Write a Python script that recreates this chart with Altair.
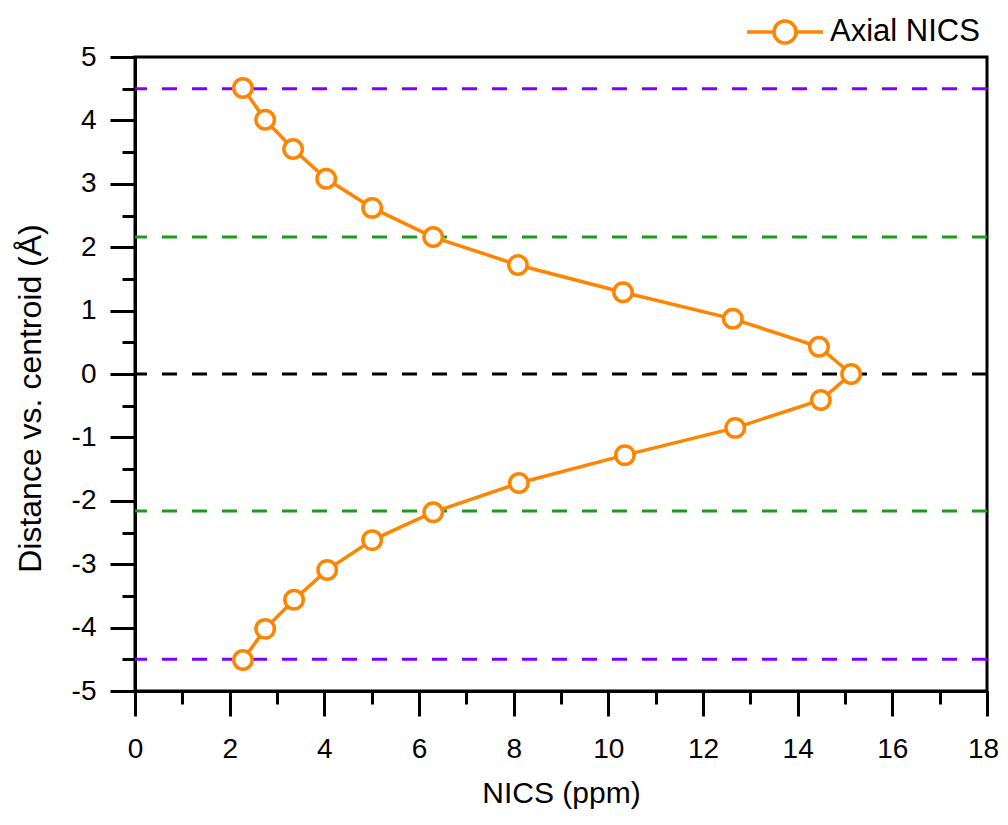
import altair as alt
import pandas as pd

# ---- data ----
nics = [2.28, 2.75, 3.34, 4.04, 5.01, 6.30, 8.09, 10.31, 12.63, 14.45, 15.13,
        14.49, 12.68, 10.35, 8.11, 6.30, 5.01, 4.06, 3.36, 2.75, 2.28]
dist = [4.51, 4.01, 3.55, 3.08, 2.62, 2.16, 1.72, 1.29, 0.87, 0.43, 0.0,
        -0.41, -0.85, -1.28, -1.72, -2.18, -2.62, -3.09, -3.56, -4.02, -4.51]
ref_y = [4.5, 2.16, 0.0, -2.16, -4.5]
ref_colors = ["#8000FF", "#1E9A1E", "#000000", "#1E9A1E", "#8000FF"]
series_name = "Axial NICS"

x_major = [0, 2, 4, 6, 8, 10, 12, 14, 16, 18]
x_minor = [1, 3, 5, 7, 9, 11, 13, 15, 17]
y_major = [-5, -4, -3, -2, -1, 0, 1, 2, 3, 4, 5]
y_minor = [-4.5, -3.5, -2.5, -1.5, -0.5, 0.5, 1.5, 2.5, 3.5, 4.5]

orange = "#FF8400"
font = "Liberation Sans"

df = pd.DataFrame({"nics": nics, "dist": dist, "idx": list(range(len(nics))),
                   "series": [series_name] * len(nics)})
refs = pd.DataFrame({"y": ref_y, "c": ref_colors})

xs = alt.Scale(domain=[0, 18], nice=False, zero=False)
ys = alt.Scale(domain=[-5, 5], nice=False, zero=False)

legend_path = ("M-1,0H-0.29M0.29,0H1M0.29,0A0.29,0.29,0,1,1,-0.29,0"
               "A0.29,0.29,0,1,1,0.29,0")

rules = alt.Chart(refs).mark_rule(strokeDash=[15, 15], strokeWidth=3).encode(
    y=alt.Y("y:Q", scale=ys,
            axis=alt.Axis(orient="left", values=y_minor, tickSize=13, tickWidth=3,
                          tickColor="black", labels=False, domain=False, grid=False,
                          title=None)),
    stroke=alt.Stroke("c:N", scale=None, legend=None),
)

line = alt.Chart(df).mark_line(strokeWidth=3.5).encode(
    x=alt.X("nics:Q", scale=xs,
            axis=alt.Axis(orient="bottom", values=x_major, tickSize=25, tickWidth=3,
                          tickColor="black", domainColor="black", domainWidth=3,
                          labelFont=font, labelFontSize=28, labelColor="black",
                          labelPadding=19, labelFlush=False, labelOverlap=False,
                          labelExpr="'' + datum.value",
                          labelOffset={"condition": {"test": "datum.value == 18",
                                                     "value": -4},
                                       "value": 0},
                          grid=False, title="NICS (ppm)", titleFont=font,
                          titleFontSize=30, titleFontWeight="normal",
                          titleColor="black", titleBaseline="middle",
                          titleX=426, titleY=102)),
    y=alt.Y("dist:Q", scale=ys,
            axis=alt.Axis(orient="left", values=y_major, tickSize=25, tickWidth=3,
                          tickColor="black", domainColor="black", domainWidth=3,
                          labelFont=font, labelFontSize=28, labelColor="black",
                          labelPadding=14, labelFlush=False, labelOverlap=False,
                          labelExpr="'' + datum.value",
                          grid=False, title="Distance vs. centroid (Å)",
                          titleFont=font, titleFontSize=32, titleFontWeight="normal",
                          titleColor="black", titleBaseline="middle",
                          titleAngle=-90, titleX=-105, titleY=341)),
    order=alt.Order("idx:Q"),
    color=alt.Color("series:N", scale=alt.Scale(range=[orange]),
                    legend=alt.Legend(title=None, orient="none", legendX=610,
                                      legendY=-65, symbolType=legend_path,
                                      symbolSize=5776, symbolStrokeWidth=3.5,
                                      symbolStrokeColor=orange,
                                      symbolFillColor="white", labelFont=font,
                                      labelFontSize=31, labelColor="black",
                                      labelOffset=5, padding=0)),
)

points = alt.Chart(df).mark_point(shape="circle", filled=True, fill="white",
                                  stroke=orange, strokeWidth=3.5, size=340,
                                  opacity=1).encode(
    x=alt.X("nics:Q", scale=xs,
            axis=alt.Axis(orient="bottom", values=x_minor, tickSize=13, tickWidth=3,
                          tickColor="black", labels=False, domain=False, grid=False,
                          title=None)),
    y=alt.Y("dist:Q", scale=ys, axis=None),
)

chart = alt.layer(rules, line, points).resolve_axis(
    x="independent", y="independent"
).properties(
    width=852, height=634,
    autosize=alt.AutoSizeParams(type="none"),
    padding={"left": 127, "top": 49, "right": 13, "bottom": 120},
).configure_view(stroke="black", strokeWidth=3)

chart.save("out.html", embed_options={"renderer": "svg", "actions": False})
